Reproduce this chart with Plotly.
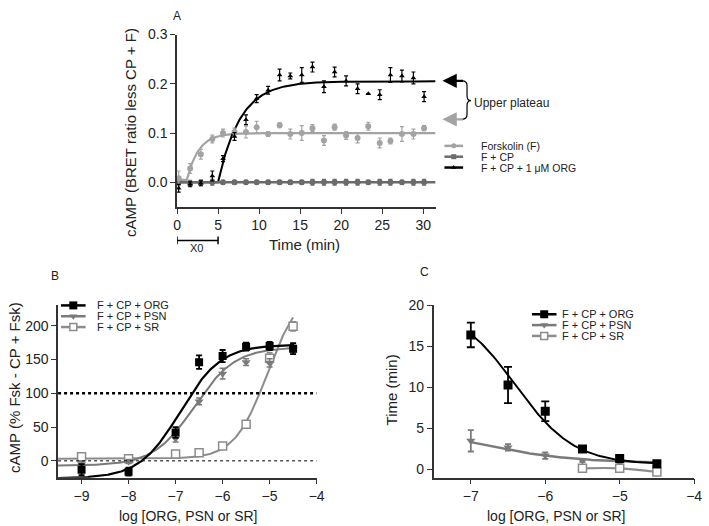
import numpy as np
import plotly.graph_objects as go

W, H = 709, 526
FONT = "Arial, Liberation Sans, sans-serif"
TXT = "#222222"

# ---------------- Panel A data ----------------
time_min = [0.2, 1.6, 2.9, 4.3, 5.6, 7.0, 8.4, 9.7, 11.1, 12.5, 13.8, 15.2,
            16.5, 17.9, 19.2, 20.6, 22.0, 23.3, 24.7, 26.0, 27.4, 28.8, 30.1]
fsk_vals = [0.008, 0.028, 0.057, 0.088, 0.100, 0.102, 0.102, 0.112, 0.098, 0.116, 0.098, 0.100,
            0.110, 0.085, 0.112, 0.095, 0.090, 0.114, 0.080, 0.084, 0.098, 0.098, 0.110]
fsk_err = [0.015, 0.010, 0.010, 0.008, 0.008, 0.008, 0.012, 0.012, 0.005, 0.005, 0.010, 0.015,
           0.007, 0.010, 0.006, 0.008, 0.010, 0.008, 0.010, 0.006, 0.015, 0.010, 0.005]
fcp_vals = [0.000, -0.002, -0.001, 0.000, 0.000, 0.000, 0.000, 0.000, 0.000, 0.000, 0.000, 0.000,
            0.000, 0.000, 0.000, 0.000, 0.000, 0.000, 0.000, 0.000, 0.000, 0.000, 0.000]
fcp_err = [0.006, 0.006, 0.006, 0.006, 0.004, 0.004, 0.004, 0.004, 0.004, 0.004, 0.004, 0.004,
           0.006, 0.006, 0.006, 0.006, 0.006, 0.004, 0.006, 0.006, 0.004, 0.006, 0.006]
org_vals = [-0.012, -0.004, -0.002, 0.013, 0.048, 0.093, 0.127, 0.170, 0.187, 0.218, 0.216, 0.218,
            0.234, 0.194, 0.224, 0.206, 0.190, 0.180, 0.178, 0.218, 0.216, 0.212, 0.174]
org_err = [0.008, 0.005, 0.005, 0.010, 0.006, 0.008, 0.010, 0.008, 0.008, 0.012, 0.006, 0.015,
           0.010, 0.012, 0.010, 0.010, 0.010, 0.000, 0.010, 0.015, 0.012, 0.012, 0.010]
# one-phase association fit parameters: (Y0, plateau, X0, K)
fsk_fit = (0.005, 0.100, 1.2, 0.70)
org_fit_a = (0.000, 0.205, 5.0, 0.37)
fcp_fit = (0.000, 0.000, 0.0, 1.0)

# ---------------- Panel B data ----------------
logconc_b = [-9, -8, -7, -6.5, -6, -5.5, -5, -4.5]
b_org = [-13, -16, 42, 146, 155, 169, 170, 166]
b_org_err = [8, 6, 8, 10, 9, 6, 6, 8]
b_psn = [-5, -1, 33, 88, 129, 146, 145, 165]
b_psn_err = [4, 3, 5, 5, 8, 5, 6, 5]
b_sr = [6, 3, 10, 12, 22, 54, 152, 199]
b_sr_err = [2, 2, 2, 2, 2, 3, 8, 7]
# 4-parameter logistic: (bottom, top, logEC50, hill)
b_org_fit = (-26, 172, -6.9, 1.0)
b_psn_fit = (-7, 168, -6.6, 1.0)
b_sr_fit = (3, 255, -5.05, 1.25)

# ---------------- Panel C data ----------------
logconc_c = [-7, -6.5, -6, -5.5, -5, -4.5]
c_org = [16.4, 10.3, 7.1, 2.5, 1.35, 0.7]
c_org_err = [1.5, 2.2, 1.2, 0.3, 0.3, 0.3]
c_psn = [3.5, 2.7, 1.7, 1.1, 1.0, 0.75]
c_psn_err = [1.3, 0.4, 0.4, 0.2, 0.2, 0.1]
logconc_c_sr = [-5.5, -5, -4.5]
c_sr = [0.15, 0.15, -0.3]
c_sr_err = [0.2, 0.2, 0.2]
c_org_fit = (0.6, 20.0, -6.4, -1.1)
c_psn_fit = (0.8, 5.5, -6.9, -0.7)

BLACK = "#000000"
LGRAY = "#a3a3a3"
DGRAY = "#6b6b6b"
MGRAY = "#7a7a7a"
SGRAY = "#8c8c8c"


def assoc(t, p):
    y0, plateau, x0, k = p
    t = np.asarray(t)
    return np.where(t < x0, y0, y0 + (plateau - y0) * (1 - np.exp(-k * (t - x0))))


def logistic(x, p):
    bottom, top, l50, h = p
    x = np.asarray(x)
    return bottom + (top - bottom) / (1 + 10 ** ((l50 - x) * h))


fig = go.Figure()

# ---- Panel A ----
ta = np.linspace(0, 31.5, 400)
fig.add_trace(go.Scatter(x=ta, y=assoc(ta, fsk_fit), mode="lines",
                         line=dict(color=LGRAY, width=2.2), xaxis="x", yaxis="y", showlegend=False))
fig.add_trace(go.Scatter(x=ta, y=assoc(ta, org_fit_a), mode="lines",
                         line=dict(color=BLACK, width=2), xaxis="x", yaxis="y", showlegend=False))
fig.add_trace(go.Scatter(x=ta, y=assoc(ta, fcp_fit), mode="lines",
                         line=dict(color=DGRAY, width=2.5), xaxis="x", yaxis="y", showlegend=False))
fig.add_trace(go.Scatter(x=time_min, y=fcp_vals, mode="markers",
                         marker=dict(color=DGRAY, size=6, symbol="circle"),
                         error_y=dict(type="data", array=fcp_err, color=DGRAY, thickness=1.2, width=2),
                         xaxis="x", yaxis="y", showlegend=False))
fig.add_trace(go.Scatter(x=time_min, y=fsk_vals, mode="markers",
                         marker=dict(color=LGRAY, size=6, symbol="circle"),
                         error_y=dict(type="data", array=fsk_err, color=LGRAY, thickness=1.2, width=2),
                         xaxis="x", yaxis="y", showlegend=False))
fig.add_trace(go.Scatter(x=time_min, y=org_vals, mode="markers",
                         marker=dict(color=BLACK, size=5, symbol="triangle-up"),
                         error_y=dict(type="data", array=org_err, color=BLACK, thickness=1.2, width=2),
                         xaxis="x", yaxis="y", showlegend=False))

# ---- Panel B ----
xb = np.linspace(-9.5, -4.5, 300)
for fitp, col, w in [(b_sr_fit, SGRAY, 2), (b_psn_fit, MGRAY, 2), (b_org_fit, BLACK, 2.2)]:
    fig.add_trace(go.Scatter(x=xb, y=logistic(xb, fitp), mode="lines",
                             line=dict(color=col, width=w), xaxis="x2", yaxis="y2", showlegend=False))
fig.add_trace(go.Scatter(x=logconc_b, y=b_sr, mode="markers",
                         marker=dict(color="white", size=8, symbol="square",
                                     line=dict(color=SGRAY, width=1.5)),
                         error_y=dict(type="data", array=b_sr_err, color=SGRAY, thickness=1.5, width=3),
                         xaxis="x2", yaxis="y2", showlegend=False))
fig.add_trace(go.Scatter(x=logconc_b, y=b_psn, mode="markers",
                         marker=dict(color=MGRAY, size=8, symbol="triangle-down"),
                         error_y=dict(type="data", array=b_psn_err, color=MGRAY, thickness=1.5, width=3),
                         xaxis="x2", yaxis="y2", showlegend=False))
fig.add_trace(go.Scatter(x=logconc_b, y=b_org, mode="markers",
                         marker=dict(color=BLACK, size=8, symbol="square"),
                         error_y=dict(type="data", array=b_org_err, color=BLACK, thickness=1.8, width=3),
                         xaxis="x2", yaxis="y2", showlegend=False))

# ---- Panel C ----
xc = np.linspace(-7, -4.5, 200)
fig.add_trace(go.Scatter(x=logconc_c_sr, y=c_sr, mode="lines+markers",
                         line=dict(color=SGRAY, width=2.2, shape="spline"),
                         marker=dict(color="white", size=8, symbol="square",
                                     line=dict(color=SGRAY, width=1.5)),
                         error_y=dict(type="data", array=c_sr_err, color=SGRAY, thickness=1.5, width=3),
                         xaxis="x3", yaxis="y3", showlegend=False))
fig.add_trace(go.Scatter(x=xc, y=logistic(xc, c_psn_fit), mode="lines",
                         line=dict(color=MGRAY, width=2.5), xaxis="x3", yaxis="y3", showlegend=False))
fig.add_trace(go.Scatter(x=xc, y=logistic(xc, c_org_fit), mode="lines",
                         line=dict(color=BLACK, width=2), xaxis="x3", yaxis="y3", showlegend=False))
fig.add_trace(go.Scatter(x=logconc_c, y=c_psn, mode="markers",
                         marker=dict(color=MGRAY, size=8, symbol="triangle-down"),
                         error_y=dict(type="data", array=c_psn_err, color=MGRAY, thickness=1.8, width=3),
                         xaxis="x3", yaxis="y3", showlegend=False))
fig.add_trace(go.Scatter(x=logconc_c, y=c_org, mode="markers",
                         marker=dict(color=BLACK, size=9, symbol="square"),
                         error_y=dict(type="data", array=c_org_err, color=BLACK, thickness=1.8, width=4),
                         xaxis="x3", yaxis="y3", showlegend=False))

# ---- Legends drawn in pixel space (overlay axis x4/y4) ----
def legend_item(x0, x1, y, col, sym, mcol, mline, size):
    fig.add_trace(go.Scatter(x=[x0, (x0 + x1) / 2, x1], y=[y, y, y], mode="lines",
                             line=dict(color=col, width=2.5), xaxis="x4", yaxis="y4",
                             showlegend=False, hoverinfo="skip"))
    fig.add_trace(go.Scatter(x=[(x0 + x1) / 2], y=[y], mode="markers",
                             marker=dict(color=mcol, size=size, symbol=sym,
                                         line=dict(color=col, width=mline)),
                             xaxis="x4", yaxis="y4", showlegend=False, hoverinfo="skip"))

annotations = []


def text(x, y, s, size=13, xanchor="center", yanchor="middle", angle=0, color=TXT, pad=1):
    annotations.append(dict(x=x, y=y, xref="x4", yref="y4", text=s, showarrow=False,
                            xanchor=xanchor, yanchor=yanchor, textangle=angle, borderpad=pad,
                            font=dict(family=FONT, size=size, color=color)))


# A legend
legend_a = [("Forskolin (F)", LGRAY, "circle", LGRAY, 0, 5),
            ("F + CP", DGRAY, "square", DGRAY, 0, 5),
            ("F + CP + 1 \u03bcM ORG", BLACK, "triangle-up", BLACK, 0, 5)]
for i, (lab, col, sym, mc, ml, sz) in enumerate(legend_a):
    y = 140 + 11 * i
    legend_item(448, 467, y, col, sym, mc, ml, sz)
    text(484, y, lab, size=10.5, xanchor="left", pad=0)

# B legend
legend_b = [("F + CP + ORG", BLACK, "square", BLACK, 0, 8),
            ("F + CP + PSN", MGRAY, "triangle-down", MGRAY, 0, 7),
            ("F + CP + SR", SGRAY, "square", "white", 1.5, 7)]
for i, (lab, col, sym, mc, ml, sz) in enumerate(legend_b):
    y = 302 + 11 * i
    legend_item(58, 83, y, col, sym, mc, ml, sz)
    text(94, y, lab, size=11, xanchor="left", pad=0)
# C legend
for i, (lab, col, sym, mc, ml, sz) in enumerate(legend_b):
    y = 311 + 11 * i
    legend_item(537, 562, y, col, sym, mc, ml, sz)
    text(567, y, lab, size=11, xanchor="left", pad=0)

# Panel letters and axis titles
text(176, 8, "A", size=12)
text(52, 272, "B", size=12)
text(428, 268, "C", size=12)
text(128, 126, "cAMP (BRET ratio less CP + F)", size=15, angle=-90)
text(306, 240, "Time (min)", size=15)
text(10, 385, "cAMP (% Fsk - CP + Fsk)", size=15, angle=-90)
text(187, 516, "log [ORG, PSN or SR]", size=14)
text(394, 388, "Time (min)", size=15, angle=-90)
text(561, 516, "log [ORG, PSN or SR]", size=14)
text(476, 96, "Upper plateau", size=12, xanchor="left")
text(196, 244, "X0", size=11)

# Arrows
for yy, col in [(74, BLACK), (113, LGRAY)]:
    annotations.append(dict(x=446, y=yy, xref="x4", yref="y4", ax=22, ay=0, text="",
                            showarrow=True, arrowhead=2, arrowsize=1.3, arrowwidth=2.2,
                            arrowcolor=col))

shapes = []
# brace
shapes.append(dict(type="path", xref="x4", yref="y4",
                   path="M 466,74 Q 471,74 471,79 L 471,89 Q 471,94 475,94 Q 471,94 471,99 L 471,108 Q 471,113 466,113",
                   line=dict(color=BLACK, width=1.2)))
# X0 bracket (0 to 5 min on panel A time axis)
shapes.append(dict(type="line", xref="x", yref="y4", x0=0, x1=5, y0=236, y1=236,
                   line=dict(color=BLACK, width=1.5)))
for xx in (0, 5):
    shapes.append(dict(type="line", xref="x", yref="y4", x0=xx, x1=xx, y0=232, y1=240,
                       line=dict(color=BLACK, width=1.5)))
# reference lines panel B
shapes.append(dict(type="line", xref="x2", yref="y2", x0=-9.5, x1=-4, y0=100, y1=100,
                   line=dict(color=BLACK, width=2.5, dash="dot")))
shapes.append(dict(type="line", xref="x2", yref="y2", x0=-9.5, x1=-4, y0=0, y1=0,
                   line=dict(color=BLACK, width=1, dash="dot")))

axis_common = dict(showline=True, linecolor="#333333", linewidth=1.5, ticks="outside",
                   ticklen=5, tickwidth=1.3, tickcolor="#333333", showgrid=False, zeroline=False,
                   tickfont=dict(family=FONT, size=14, color=TXT), fixedrange=True)


def px_dom_x(a, b):
    return [a / W, b / W]


def px_dom_y(top, bottom):
    return [1 - bottom / H, 1 - top / H]


fig.update_layout(
    width=W, height=H, margin=dict(l=0, r=0, t=0, b=0),
    paper_bgcolor="white", plot_bgcolor="rgba(0,0,0,0)",
    xaxis=dict(axis_common, domain=px_dom_x(176, 439), range=[0, 31.5],
               tickvals=[0, 5, 10, 15, 20, 25, 30], anchor="y"),
    yaxis=dict(axis_common, domain=px_dom_y(27, 202), range=[-0.05, 0.3],
               tickvals=[0, 0.1, 0.2, 0.3], tickformat=".1f", anchor="x"),
    xaxis2=dict(axis_common, domain=px_dom_x(55, 318), range=[-9.5, -4],
                tickvals=[-9, -8, -7, -6, -5, -4], anchor="y2"),
    yaxis2=dict(axis_common, domain=px_dom_y(302, 477), range=[-25, 230],
                tickvals=[0, 50, 100, 150, 200], anchor="x2"),
    xaxis3=dict(axis_common, domain=px_dom_x(437, 702), range=[-7.5, -4],
                tickvals=[-7, -6, -5, -4], anchor="y3"),
    yaxis3=dict(axis_common, domain=px_dom_y(302, 477), range=[-1, 20],
                tickvals=[0, 5, 10, 15, 20], anchor="x3"),
    xaxis4=dict(domain=[0, 1], range=[0, W], visible=False, fixedrange=True, anchor="y4"),
    yaxis4=dict(domain=[0, 1], range=[H, 0], visible=False, fixedrange=True, anchor="x4"),
    annotations=annotations, shapes=shapes, showlegend=False,
)

fig.write_html("out.html", config={"displayModeBar": False},
               post_script="document.body.style.margin='0px';document.body.style.padding='0px';")
